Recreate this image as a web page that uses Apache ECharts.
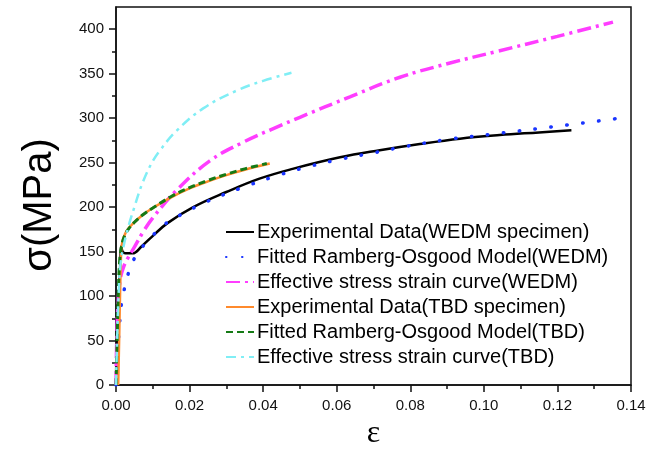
<!DOCTYPE html>
<html>
<head>
<meta charset="utf-8">
<script src="https://cdn.jsdelivr.net/npm/echarts@6/dist/echarts.min.js"></script>
<style>
  html, body { margin: 0; padding: 0; background: #fff; }
  #root { width: 658px; height: 450px; }
</style>
</head>
<body>
<div id="root"></div>
<script>
// series names (legend order)
const names = [
  'Experimental Data(WEDM specimen)',
  'Fitted Ramberg-Osgood Model(WEDM)',
  'Effective stress strain curve(WEDM)',
  'Experimental Data(TBD specimen)',
  'Fitted Ramberg-Osgood Model(TBD)',
  'Effective stress strain curve(TBD)'
]

// [strain, stress MPa]
const wedmExp = [[0, 0], [0.0004, 50], [0.0008, 100], [0.0012, 140], [0.0014, 156], [0.0018, 150],
  [0.0025, 148], [0.0045, 148], [0.007, 156], [0.0101, 168], [0.014, 182], [0.021, 200],
  [0.030, 217], [0.039, 232], [0.048, 243], [0.0609, 256], [0.0717, 264], [0.0826, 271],
  [0.0935, 277], [0.1043, 281], [0.115, 284], [0.1238, 286.5]]
const wedmFit = [[0, 0], [0.0005, 40], [0.001, 70], [0.0015, 92], [0.0025, 112], [0.0034, 126],
  [0.0052, 144], [0.0075, 157], [0.0097, 167], [0.013, 180], [0.017, 190], [0.0246, 206],
  [0.0337, 221], [0.0427, 234], [0.05, 243], [0.06, 253], [0.07, 261], [0.0772, 267],
  [0.09, 276], [0.1043, 283], [0.12, 291], [0.137, 300]]
const wedmEff = [[0, 0], [0.0002, 50], [0.0006, 95], [0.0012, 120], [0.002, 132], [0.003, 141],
  [0.005, 155], [0.0075, 173], [0.01, 188], [0.0165, 219], [0.0255, 252], [0.0346, 273],
  [0.0437, 290], [0.05, 301], [0.0636, 324], [0.0772, 346], [0.0908, 362], [0.1035, 375],
  [0.12, 392], [0.1351, 408]]
const tbdExp = [[0.0006, 0], [0.0009, 60], [0.0012, 120], [0.0015, 155], [0.002, 165], [0.003, 174],
  [0.005, 183], [0.0075, 192], [0.01, 199], [0.015, 211], [0.02, 221], [0.025, 229],
  [0.03, 236], [0.035, 242], [0.0418, 249]]
const tbdFit = [[0, 0], [0.0003, 50], [0.0006, 100], [0.001, 140], [0.0015, 156], [0.002, 164],
  [0.003, 173], [0.005, 183], [0.0075, 192], [0.01, 199], [0.015, 212], [0.02, 222],
  [0.025, 230], [0.03, 237], [0.035, 243], [0.041, 249]]
const tbdEff = [[0, 0], [0.0003, 50], [0.0007, 100], [0.0012, 135], [0.002, 155], [0.0033, 177],
  [0.005, 200], [0.007, 225], [0.0095, 248], [0.012, 264], [0.0165, 286], [0.0237, 311],
  [0.0328, 331], [0.04, 342], [0.0477, 351]]

const yTicks = [0, 50, 100, 150, 200, 250, 300, 350, 400]

const font = 'Liberation Sans, Arial, sans-serif'

const styles = [
  { color: '#000000', width: 2.5, type: 'solid' },
  { color: '#1a35ff', width: 3.5, type: [0.5, 15.5], cap: 'round' },
  { color: '#ff3dff', width: 3.5, type: [14, 5, 3, 5] },
  { color: '#ff8a2c', width: 2.5, type: 'solid' },
  { color: '#157a15', width: 3, type: [7, 4] },
  { color: '#80eef5', width: 2.5, type: [10, 5, 3, 5] }
]
const datasets = [wedmExp, wedmFit, wedmEff, tbdExp, tbdFit, tbdEff]

const chart = echarts.init(document.getElementById('root'), null, { renderer: 'canvas' })

const series = datasets.map((d, i) => ({
  name: names[i],
  type: 'line',
  data: d,
  symbol: 'none',
  smooth: 0.4,
  color: styles[i].color,
  lineStyle: styles[i],
  animation: false
}))

const axisCommon = {
  axisLine: { show: true, onZero: false, lineStyle: { color: '#111', width: 1.5 } },
  axisTick: { show: true, inside: false, length: 7, lineStyle: { color: '#111', width: 1.5 } },
  minorTick: { show: true, splitNumber: 2, length: 4, lineStyle: { color: '#111', width: 1.5 } },
  splitLine: { show: false },
  axisLabel: { color: '#111', fontSize: 15, fontFamily: font, margin: 12 }
}

chart.setOption({
  backgroundColor: '#fff',
  animation: false,
  grid: {
    left: 116, right: 27, top: 7, bottom: 65,
    outerBoundsMode: 'none', containLabel: false,
    show: true, borderColor: '#111', borderWidth: 1.5
  },
  legend: {
    data: names,
    orient: 'vertical',
    left: 220,
    top: 217,
    itemWidth: 28,
    itemHeight: 14,
    itemGap: 5,
    itemStyle: { opacity: 0 },
    textStyle: { fontSize: 20, fontFamily: font, color: '#000', lineHeight: 20, padding: [0, 0, 0, -2] }
  },
  xAxis: {
    type: 'value',
    min: 0,
    max: 0.14,
    interval: 0.02,
    ...axisCommon,
    axisLabel: { ...axisCommon.axisLabel, margin: 13, formatter: v => v.toFixed(2) },
    name: 'ε',
    nameLocation: 'middle',
    nameGap: 33,
    nameTextStyle: { fontSize: 32, fontFamily: 'Liberation Serif, serif', color: '#000' }
  },
  yAxis: {
    type: 'value',
    min: 0,
    max: 425,
    interval: 50,
    ...axisCommon,
    axisTick: { ...axisCommon.axisTick, customValues: yTicks },
    axisLabel: { ...axisCommon.axisLabel, customValues: yTicks },
    name: 'σ(MPa)',
    nameLocation: 'middle',
    nameGap: 56,
    nameTextStyle: { fontSize: 40, fontFamily: font, color: '#000', padding: [0, 0, 0, -18] }
  },
  series
})
</script>
</body>
</html>
